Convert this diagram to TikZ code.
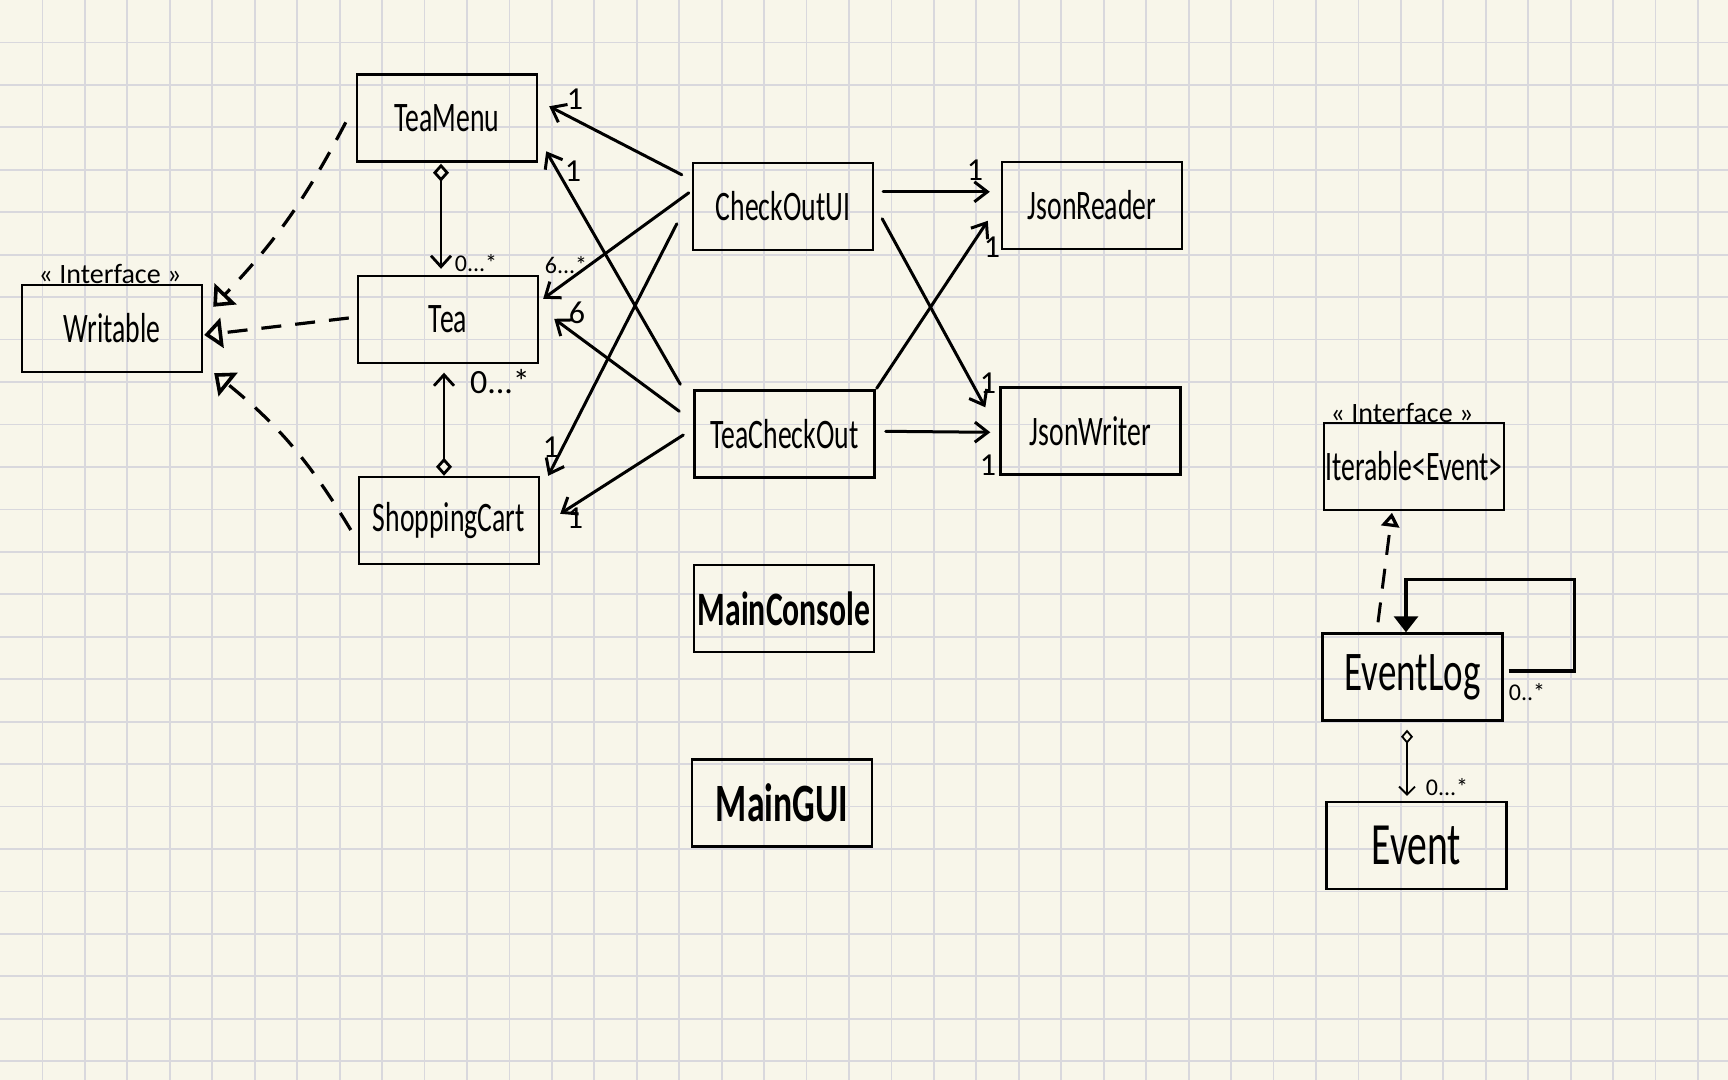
\documentclass[tikz,border=0pt]{standalone}
\usepackage{fontspec}
\usetikzlibrary{arrows.meta,calc}
\newfontfamily\hand[FakeStretch=0.66]{Carlito}
\newfontfamily\handn{Carlito}
\definecolor{paper}{RGB}{248,246,234}
\definecolor{gridc}{RGB}{217,216,221}

\begin{document}
\begin{tikzpicture}[x=0.5pt,y=-0.5pt,
  gridline/.style={draw=gridc, line width=0.9pt},
  classbox/.style={draw=black, line width=1.2pt, minimum width=90pt,
    minimum height=43.5pt, inner sep=0pt, font=\hand\fontsize{21}{21}\selectfont},
  bigname/.style={font=\hand\fontsize{28}{28}\selectfont},
  boldname/.style={font=\hand\bfseries\fontsize{24}{24}\selectfont},
  assoc/.style={line width=1.5pt, line cap=round,
    -{Straight Barb[length=6.5pt,width=10pt]}},
  realize/.style={line width=1.6pt, dash pattern=on 10pt off 7pt,
    -{Triangle[open,length=9pt,width=15pt,fill=paper,line width=1.8pt]}},
  aggr/.style={line width=1.4pt,
    {Diamond[open,length=9pt,width=8pt,fill=paper]}-{Straight Barb[length=5.5pt,width=10pt]}},
  mult/.style={font=\handn\fontsize{12}{12}\selectfont, inner sep=0pt},
  one/.style={font=\handn\fontsize{16}{16}\selectfont, inner sep=0pt},
  stereo/.style={font=\handn\fontsize{14}{14}\selectfont, inner sep=0pt}
]
% paper and grid
\fill[paper] (0,0) rectangle (1728,1080);
\useasboundingbox (0,0) rectangle (1728,1080);
\foreach \i in {1,...,40} {\draw[gridline] (\i*42.45,0) -- (\i*42.45,1080);}
\foreach \j in {1,...,25} {\draw[gridline] (0,\j*42.45) -- (1728,\j*42.45);}

% classes
\node[classbox] (teamenu)     at (447,118)    {TeaMenu};
\node[classbox] (tea)         at (448,319.5)  {Tea};
\node[classbox] (cart)        at (449,520.5)  {ShoppingCart};
\node[classbox] (writable)    at (112,328.5)  {Writable};
\node[classbox] (checkoutui)  at (783,206.5)  {CheckOutUI};
\node[classbox] (teacheckout) at (784.5,434)  {TeaCheckOut};
\node[classbox] (jsonreader)  at (1092,205.5) {JsonReader};
\node[classbox] (jsonwriter)  at (1090.5,431) {JsonWriter};
\node[classbox,boldname] (mainconsole) at (784,608.5) {MainConsole};
\node[classbox,boldname,font=\hand\bfseries\fontsize{27}{27}\selectfont] (maingui) at (782,803) {MainGUI};
\node[classbox] (iterable)    at (1414,466.5) {Iterable<Event>};
\node[classbox,bigname] (eventlog) at (1412.5,677) {EventLog};
\node[classbox,bigname,font=\hand\fontsize{30}{30}\selectfont] (event) at (1416.5,845.5) {Event};

% stereotypes
\node[stereo] (stw) at (110,274) {« Interface »};
\node[stereo] (sti) at (1402,413) {« Interface »};

% realizations of Writable
\draw[realize] ($(teamenu.north west)+(-10,49)$) to[bend left=8] ($(writable.north east)+(10,23)$);
\draw[realize] ($(tea.west)+(-8,-1.5)$) -- ($(writable.east)+(1,6.5)$);
\draw[realize] ($(cart.west)+(-7,9.5)$) to[bend right=10] ($(writable.south east)+(11,0)$);

% aggregations around Tea
\draw[aggr] ($(teamenu.south)+(-6,1)$) -- ($(tea.north)+(-7,-6)$);
\node[mult] (m1) at (476,263) {0...*};
\draw[aggr] ($(cart.north)+(-5,0)$) -- ($(tea.south)+(-4,8.5)$);
\node[mult,font=\handn\fontsize{17}{17}\selectfont] (m2) at (500,382) {0...*};

% associations from the UI classes
\draw[assoc] ($(checkoutui.north west)+(-10,13)$) -- ($(teamenu.north east)+(11,33)$);
\node[one] (l1) at (575,99) {1};
\draw[assoc] ($(teacheckout.north west)+(-13,-5)$) -- ($(teamenu.north east)+(8,78)$);
\node[one] (l2) at (573,171) {1};
\draw[assoc] ($(checkoutui.north west)+(-3,31)$) -- ($(tea.north east)+(4,24)$);
\node[mult] (l3) at (566,265) {6...*};
\draw[assoc] ($(teacheckout.north west)+(-14,22)$) -- ($(tea.north east)+(15,44)$);
\node[one] (l4) at (577,313) {6};
\draw[assoc] ($(checkoutui.north west)+(-15,62)$) -- ($(cart.north east)+(8,0)$);
\node[one] (l5) at (551,447) {1};
\draw[assoc] ($(teacheckout.west)+(-10,1)$) -- ($(cart.north east)+(20,38)$);
\node[one] (l6) at (575,518) {1};

\draw[assoc] ($(checkoutui.north east)+(9,30)$) -- ($(jsonreader.north west)+(-11,31)$);
\node[one] (l7) at (975,170) {1};
\draw[assoc] ($(teacheckout.north east)+(1,-1)$) -- ($(jsonreader.north west)+(-13,60)$);
\node[one] (l8) at (992,247) {1};
\draw[assoc] ($(checkoutui.north east)+(8,57)$) -- ($(jsonwriter.north west)+(-14,21)$);
\node[one] (l9) at (988,383) {1};
\draw[assoc] ($(teacheckout.north east)+(10,42)$) -- ($(jsonwriter.north west)+(-9,46)$);
\node[one] (l10) at (988,465) {1};

% event log
\draw[line width=1.5pt, dash pattern=on 10pt off 7pt,
  -{Triangle[open,length=7pt,width=9pt,fill=paper,line width=1.6pt]}]
  ($(eventlog.north)+(-34.5,-10)$) -- ($(iterable.south)+(-22,1.5)$);
\draw[line width=1.6pt, -{Triangle[length=8pt,width=12pt]}]
  ($(eventlog.east)+(5,-6)$) -| ($(eventlog.north east)+(71,-53)$) -| ($(eventlog.north)+(-6.5,0)$);
\node[mult] (l11) at (1527,692) {0..*};
\draw[line width=0.9pt,
  {Diamond[open,length=7pt,width=6pt,fill=paper]}-{Straight Barb[length=4pt,width=8pt]}]
  ($(eventlog.south)+(-5.5,8)$) -- ($(event.north)+(-9.5,-5)$);
\node[mult] (l12) at (1447,787) {0...*};
\end{tikzpicture}
\end{document}
